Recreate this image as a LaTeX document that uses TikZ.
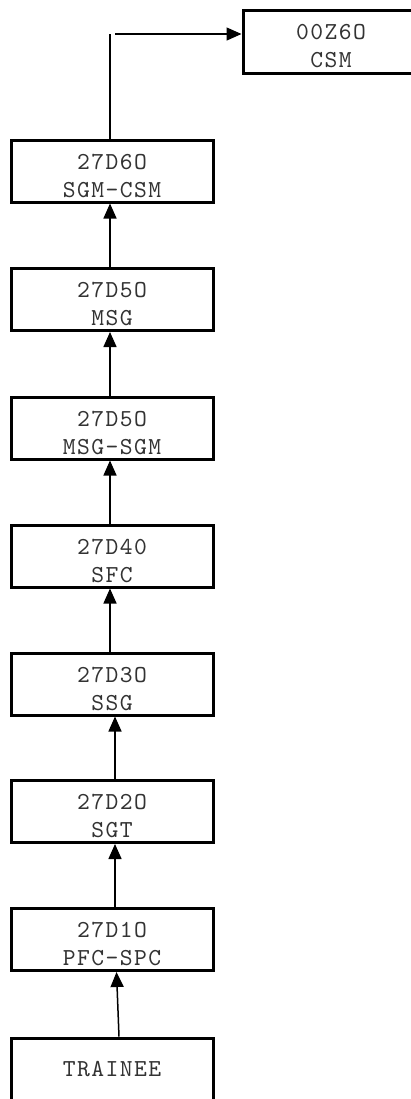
\documentclass[tikz,border=0pt]{standalone}
\usepackage{fontspec}
\setmonofont{lmmono10-regular.otf}[LetterSpace=6]
\usetikzlibrary{arrows.meta}

\begin{document}
\begin{tikzpicture}[x=0.5pt,y=-0.5pt,
  rank/.style={draw, line width=1.5pt, minimum width=101pt, minimum height=31pt,
    inner sep=0pt, align=center, font=\ttfamily\fontsize{12.2}{14}\selectfont, text=black!80},
  twolines/.style={text height=26pt, text depth=0pt},
  up/.style={-{Triangle[length=7.5pt,width=6.5pt]}, line width=0.75pt}]
  % page size
  \clip (0,0) rectangle (411,1099);

  % the ranks, bottom to top
  \node[rank] (trainee) at (112,1069) {TRAINEE};
  \node[rank, twolines] (pfcspc) at (112,939.5) {27D1O\\PFC-SPC};
  \node[rank, twolines] (sgt) at (112,811.5) {27D2O\\SGT};
  \node[rank, twolines] (ssg) at (112,684) {27D3O\\SSG};
  \node[rank, twolines] (sfc) at (112,556) {27D40\\SFC};
  \node[rank, twolines] (msgsgm) at (112,428) {27D5O\\MSG-SGM};
  \node[rank, twolines] (msg) at (112,299.5) {27D5O\\MSG};
  \node[rank, twolines] (sgmcsm) at (112,171) {27D6O\\SGM-CSM};
  \node[rank, twolines, minimum width=88pt, minimum height=31.5pt] (csm) at (331,41.5) {00Z6O\\CSM};

  % promotions
  \draw[up] ([xshift=3.5pt]trainee.north) -- ([xshift=2.25pt]pfcspc.south);
  \draw[up] ([xshift=1.5pt]pfcspc.north) -- ([xshift=1.5pt]sgt.south);
  \draw[up] ([xshift=1.5pt]sgt.north) -- ([xshift=1.5pt]ssg.south);
  \draw[up] ([xshift=-1pt]ssg.north) -- ([xshift=-1pt]sfc.south);
  \draw[up] ([xshift=-1pt]sfc.north) -- ([xshift=-1pt]msgsgm.south);
  \draw[up] ([xshift=-1pt]msgsgm.north) -- ([xshift=-1pt]msg.south);
  \draw[up] ([xshift=-1pt]msg.north) -- ([xshift=-1pt]sgmcsm.south);

  % last step goes across
  \coordinate (bend) at (110,34);
  \draw[line width=0.75pt] ([xshift=-1pt]sgmcsm.north) -- (bend);
  \draw[up] ([xshift=2.5pt]bend) -- ([yshift=3.75pt]csm.west);
\end{tikzpicture}
\end{document}
